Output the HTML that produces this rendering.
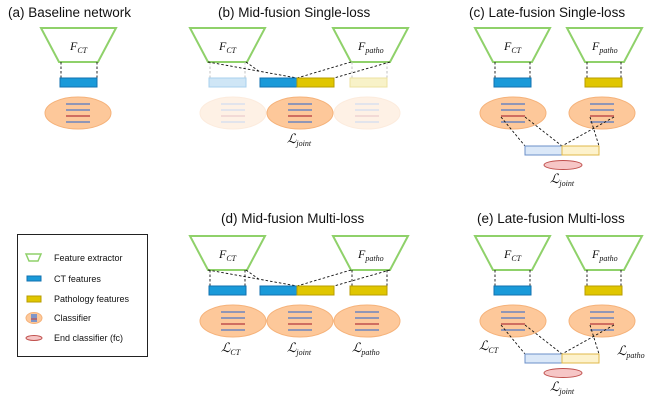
<!DOCTYPE html>
<html><head><meta charset="utf-8"><style>
html,body{margin:0;padding:0;background:#fff;}
svg{display:block;}
.t{font-family:"Liberation Sans",sans-serif;font-size:13.5px;fill:#111;}
.f{font-family:"Liberation Serif",serif;font-style:italic;font-size:12px;fill:#111;}
.l{font-family:"Liberation Serif","DejaVu Serif",serif;font-style:italic;font-size:13px;fill:#111;}
.s{font-size:8px;}
.g{font-family:"Liberation Sans",sans-serif;font-size:9px;fill:#111;}
.d{stroke:#111;stroke-width:0.9;stroke-dasharray:2.5,2;fill:none;}
.dl{stroke:#bbb;stroke-width:0.9;stroke-dasharray:2.5,2;fill:none;}
</style></head><body>
<svg width="664" height="410" viewBox="0 0 664 410" xmlns="http://www.w3.org/2000/svg">
<defs>
<polygon id="tr" points="0,0 75,0 57,34 18,34" fill="#fff" stroke="#8fd16a" stroke-width="2"/>
<g id="cl">
<ellipse cx="0" cy="0" rx="33" ry="16" fill="#fdc89a" stroke="#f5b27a" stroke-width="1"/>
<line x1="-12" y1="-9" x2="12" y2="-9" stroke="#6d86c0" stroke-width="1.6"/>
<line x1="-12" y1="-3" x2="12" y2="-3" stroke="#6d86c0" stroke-width="1.6"/>
<line x1="-12" y1="3" x2="12" y2="3" stroke="#c0504d" stroke-width="1.6"/>
<line x1="-12" y1="9" x2="12" y2="9" stroke="#6d86c0" stroke-width="1.6"/>
</g>
<rect id="bb" width="37" height="9" fill="#1a9ad9" stroke="#1272b0" stroke-width="1"/>
<rect id="yb" width="37" height="9" fill="#e0c600" stroke="#b89d00" stroke-width="1"/>
<rect id="lb" width="37" height="9" fill="#dbe8f8" stroke="#6b8fc8" stroke-width="1"/>
<rect id="ly" width="37" height="9" fill="#fdf2cc" stroke="#e0b84a" stroke-width="1"/>
<ellipse id="ec" cx="0" cy="0" rx="19" ry="4.5" fill="#f6c6c6" stroke="#c0504d" stroke-width="1"/>
</defs>

<text class="t" x="8" y="17">(a) Baseline network</text>
<text class="t" x="218" y="17">(b) Mid-fusion Single-loss</text>
<text class="t" x="469" y="17">(c) Late-fusion Single-loss</text>
<text class="t" x="221" y="223">(d) Mid-fusion Multi-loss</text>
<text class="t" x="477" y="223">(e) Late-fusion Multi-loss</text>

<!-- (a) -->
<use href="#tr" x="41" y="28"/>
<text class="f" x="70" y="50">F<tspan class="s" dy="3">CT</tspan></text>
<path class="d" d="M61 62V78M97 62V78"/>
<use href="#bb" x="60" y="78"/>
<use href="#cl" x="78" y="113"/>

<!-- (b) -->
<use href="#tr" x="190" y="28"/>
<text class="f" x="219" y="50">F<tspan class="s" dy="3">CT</tspan></text>
<use href="#tr" x="333" y="28"/>
<text class="f" x="358" y="50">F<tspan class="s" dy="3">patho</tspan></text>
<path class="dl" d="M210 62V78M245 62V78M352 62V78M387 62V78"/>
<path class="d" d="M208 62L297 78M246 62L260 72M351 62L297 78M390 62L334 78"/>
<rect x="209" y="78" width="37" height="9" fill="#cfe6f6" stroke="#a8d0ee"/>
<rect x="350" y="78" width="37" height="9" fill="#f8f2c8" stroke="#ece2a0"/>
<use href="#bb" x="260" y="78"/><use href="#yb" x="297" y="78"/>
<g opacity="0.25"><use href="#cl" x="233" y="113"/><use href="#cl" x="367" y="113"/></g>
<use href="#cl" x="300" y="113"/>
<text class="l" x="287" y="143">ℒ<tspan class="s" dy="3">joint</tspan></text>

<!-- (c) -->
<use href="#tr" x="475" y="28"/>
<text class="f" x="504" y="50">F<tspan class="s" dy="3">CT</tspan></text>
<use href="#tr" x="567" y="28"/>
<text class="f" x="592" y="50">F<tspan class="s" dy="3">patho</tspan></text>
<path class="d" d="M495 62V78M530 62V78M587 62V78M621 62V78"/>
<use href="#bb" x="494" y="78"/><use href="#yb" x="585" y="78"/>
<use href="#cl" x="513" y="113"/><use href="#cl" x="602" y="113"/>
<path class="d" d="M501 117L525 146M525 117L562 146M614 117L562 146M590 117L599 146"/>
<use href="#lb" x="525" y="146"/><use href="#ly" x="562" y="146"/>
<use href="#ec" x="563" y="165"/>
<text class="l" x="550" y="183">ℒ<tspan class="s" dy="3">joint</tspan></text>

<!-- (d) -->
<use href="#tr" x="190" y="236"/>
<text class="f" x="219" y="258">F<tspan class="s" dy="3">CT</tspan></text>
<use href="#tr" x="333" y="236"/>
<text class="f" x="358" y="258">F<tspan class="s" dy="3">patho</tspan></text>
<path class="d" d="M210 270V286M245 270V286M352 270V286M387 270V286M208 270L297 286M246 270L260 280M351 270L297 286M390 270L334 286"/>
<use href="#bb" x="209" y="286"/><use href="#bb" x="260" y="286"/><use href="#yb" x="297" y="286"/><use href="#yb" x="350" y="286"/>
<use href="#cl" x="233" y="321"/><use href="#cl" x="300" y="321"/><use href="#cl" x="367" y="321"/>
<text class="l" x="221" y="352">ℒ<tspan class="s" dy="3">CT</tspan></text>
<text class="l" x="287" y="352">ℒ<tspan class="s" dy="3">joint</tspan></text>
<text class="l" x="352" y="352">ℒ<tspan class="s" dy="3">patho</tspan></text>

<!-- (e) -->
<use href="#tr" x="475" y="236"/>
<text class="f" x="504" y="258">F<tspan class="s" dy="3">CT</tspan></text>
<use href="#tr" x="567" y="236"/>
<text class="f" x="592" y="258">F<tspan class="s" dy="3">patho</tspan></text>
<path class="d" d="M495 270V286M530 270V286M587 270V286M621 270V286"/>
<use href="#bb" x="494" y="286"/><use href="#yb" x="585" y="286"/>
<use href="#cl" x="513" y="321"/><use href="#cl" x="602" y="321"/>
<path class="d" d="M501 325L525 354M525 325L562 354M614 325L562 354M590 325L599 354"/>
<use href="#lb" x="525" y="354"/><use href="#ly" x="562" y="354"/>
<use href="#ec" x="563" y="373"/>
<text class="l" x="479" y="350">ℒ<tspan class="s" dy="3">CT</tspan></text>
<text class="l" x="617" y="355">ℒ<tspan class="s" dy="3">patho</tspan></text>
<text class="l" x="550" y="391">ℒ<tspan class="s" dy="3">joint</tspan></text>

<!-- legend -->
<rect x="17.5" y="234.5" width="130" height="122" fill="#fff" stroke="#222" stroke-width="1"/>
<polygon points="26,254 41,254 38,261 29,261" fill="#fff" stroke="#8fd16a" stroke-width="1.5"/>
<text class="g" x="54" y="261">Feature extractor</text>
<rect x="27" y="276" width="14" height="5" fill="#1a9ad9" stroke="#1272b0"/>
<text class="g" x="54" y="282">CT features</text>
<rect x="27" y="296" width="14" height="6" fill="#e0c600" stroke="#b89d00"/>
<text class="g" x="54" y="302">Pathology features</text>
<ellipse cx="34" cy="318" rx="8" ry="5.5" fill="#fdc89a" stroke="#f5b27a"/>
<rect x="31" y="314" width="6" height="8" fill="#8095c8"/>
<line x1="31" y1="319" x2="37" y2="319" stroke="#c0504d" stroke-width="1.2"/>
<text class="g" x="54" y="321">Classifier</text>
<ellipse cx="34" cy="338" rx="8" ry="2.5" fill="#f6c6c6" stroke="#c0504d"/>
<text class="g" x="54" y="341">End classifier (fc)</text>
</svg>
</body></html>
